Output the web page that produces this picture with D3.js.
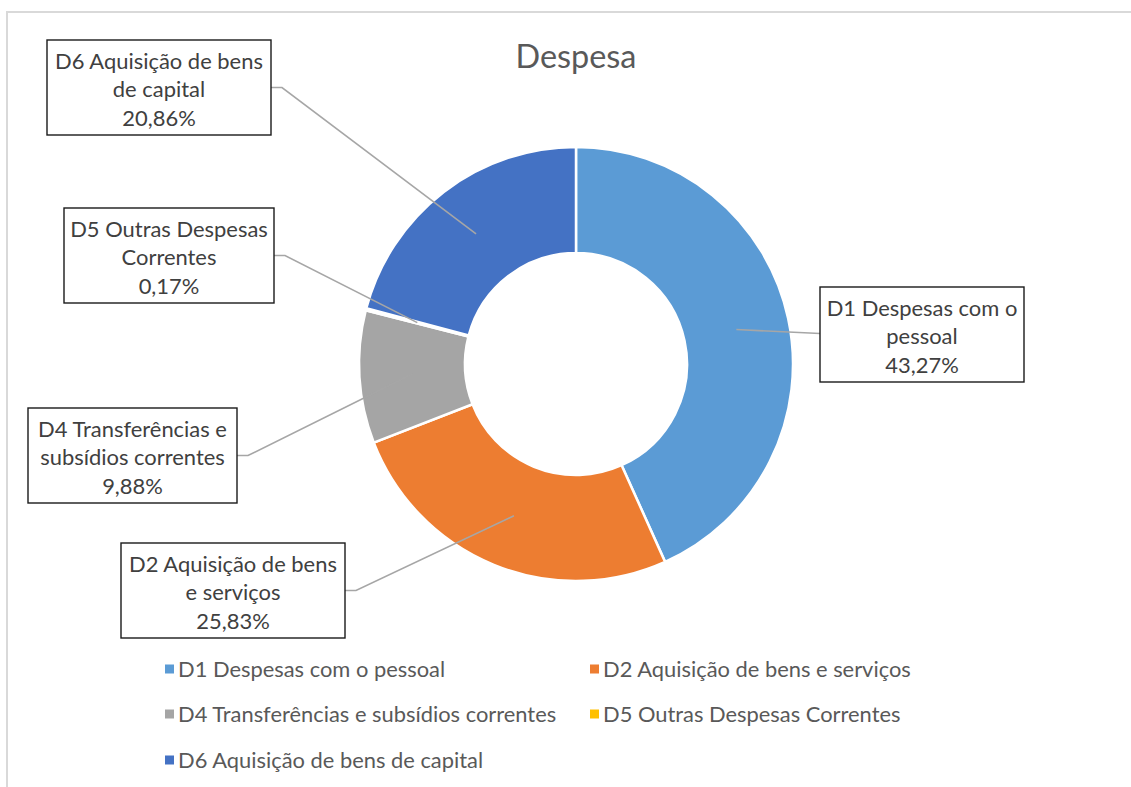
<!DOCTYPE html>
<html>
<head>
<meta charset="utf-8">
<script src="https://cdn.jsdelivr.net/npm/d3@7"></script>
<style>
  html, body { margin: 0; padding: 0; background: #fff; }
  svg { display: block; }
</style>
</head>
<body>
<div id="chart"></div>
<script>
const categories = [
    "D1 Despesas com o pessoal",
    "D2 Aquisição de bens e serviços",
    "D4 Transferências e subsídios correntes",
    "D5 Outras Despesas Correntes",
    "D6 Aquisição de bens de capital"
];
const shares = [43.27, 25.83, 9.88, 0.17, 20.86];
const colors = ["#5B9BD5", "#ED7D31", "#A5A5A5", "#FFC000", "#4472C4"];
const labelLines = [
    ["D1 Despesas com o", "pessoal"],
    ["D2 Aquisição de bens", "e serviços"],
    ["D4 Transferências e", "subsídios correntes"],
    ["D5 Outras Despesas", "Correntes"],
    ["D6 Aquisição de bens", "de capital"]
];

const width = 1131, height = 787;
const font = "Lato, 'Open Sans', sans-serif";
const cx = 576, cy = 364, outerR = 217, innerR = 111;

// data label boxes placed by hand, like in the original sheet
const boxes = [
    { x: 820, y: 287, w: 204, h: 95, side: "left" },
    { x: 121, y: 543, w: 224, h: 95, side: "right" },
    { x: 28, y: 408, w: 209, h: 95, side: "right" },
    { x: 64, y: 208, w: 210, h: 95, side: "right" },
    { x: 47, y: 40, w: 224, h: 95, side: "right" }
];

const fmt = v => v.toFixed(2).replace(".", ",") + "%";

const svg = d3.select("#chart")
    .append("svg")
    .attr("width", width)
    .attr("height", height);

svg.append("rect")
    .attr("x", 7).attr("y", 12)
    .attr("width", 1300).attr("height", 900)
    .attr("fill", "#fff")
    .attr("stroke", "#d9d9d9")
    .attr("stroke-width", 2);

// pick a font size so that a reference string gets a given width
function fitSize(str, target) {
    const t = svg.append("text").style("font-family", font).style("font-size", "100px").text(str);
    const w = t.node().getComputedTextLength();
    t.remove();
    return 100 * target / w;
}

const titleSize = fitSize("Despesa", 121);
const labelSize = fitSize("D6 Aquisição de bens", 208);
const legendSize = fitSize("D2 Aquisição de bens e serviços", 308);

svg.append("text")
    .attr("x", cx)
    .attr("y", 68)
    .attr("text-anchor", "middle")
    .style("font-family", font)
    .style("font-size", titleSize + "px")
    .style("fill", "#595959")
    .text("Despesa");

const pie = d3.pie().sort(null).value(d => d);
const arcs = pie(shares);
const arc = d3.arc().innerRadius(innerR).outerRadius(outerR);

const g = svg.append("g").attr("transform", `translate(${cx},${cy})`);

g.selectAll("path")
    .data(arcs)
    .enter()
    .append("path")
    .attr("d", arc)
    .attr("fill", (d, i) => colors[i])
    .attr("stroke", "#fff")
    .attr("stroke-width", 2.5);

// leader lines
arcs.forEach((d, i) => {
    const c = arc.centroid(d);
    const px = cx + c[0], py = cy + c[1];
    const b = boxes[i];
    const my = b.y + b.h / 2;
    let pts;
    if (b.side === "left") {
        pts = [[b.x, my - 1], [px, py]];
    } else {
        pts = [[b.x + b.w, my], [b.x + b.w + 11, my], [px, py]];
    }
    svg.append("path")
        .attr("d", d3.line()(pts))
        .attr("fill", "none")
        .attr("stroke", "#a6a6a6")
        .attr("stroke-width", 1.6);
});

// label boxes
boxes.forEach((b, i) => {
    svg.append("rect")
        .attr("x", b.x).attr("y", b.y)
        .attr("width", b.w).attr("height", b.h)
        .attr("fill", "#fff")
        .attr("stroke", "#1a1a1a")
        .attr("stroke-width", 1.4);
    const lines = labelLines[i].concat([fmt(shares[i])]);
    const mid = b.y + b.h / 2 + 2;
    lines.forEach((s, k) => {
        svg.append("text")
            .attr("x", b.x + b.w / 2)
            .attr("y", mid + (k - 1) * 28.5)
            .attr("dy", "0.36em")
            .attr("text-anchor", "middle")
            .style("font-family", font)
            .style("font-size", labelSize + "px")
            .style("fill", "#404040")
            .text(s);
    });
});

// legend
const legendPos = [[165, 669], [590, 669], [165, 714], [590, 714], [165, 760]];
const legend = svg.append("g");
categories.forEach((name, i) => {
    const [lx, ly] = legendPos[i];
    legend.append("rect")
        .attr("x", lx).attr("y", ly - 4.5)
        .attr("width", 9).attr("height", 9)
        .attr("fill", colors[i]);
    legend.append("text")
        .attr("x", lx + 13)
        .attr("y", ly)
        .attr("dy", "0.36em")
        .style("font-family", font)
        .style("font-size", legendSize + "px")
        .style("fill", "#595959")
        .text(name);
});
</script>
</body>
</html>
